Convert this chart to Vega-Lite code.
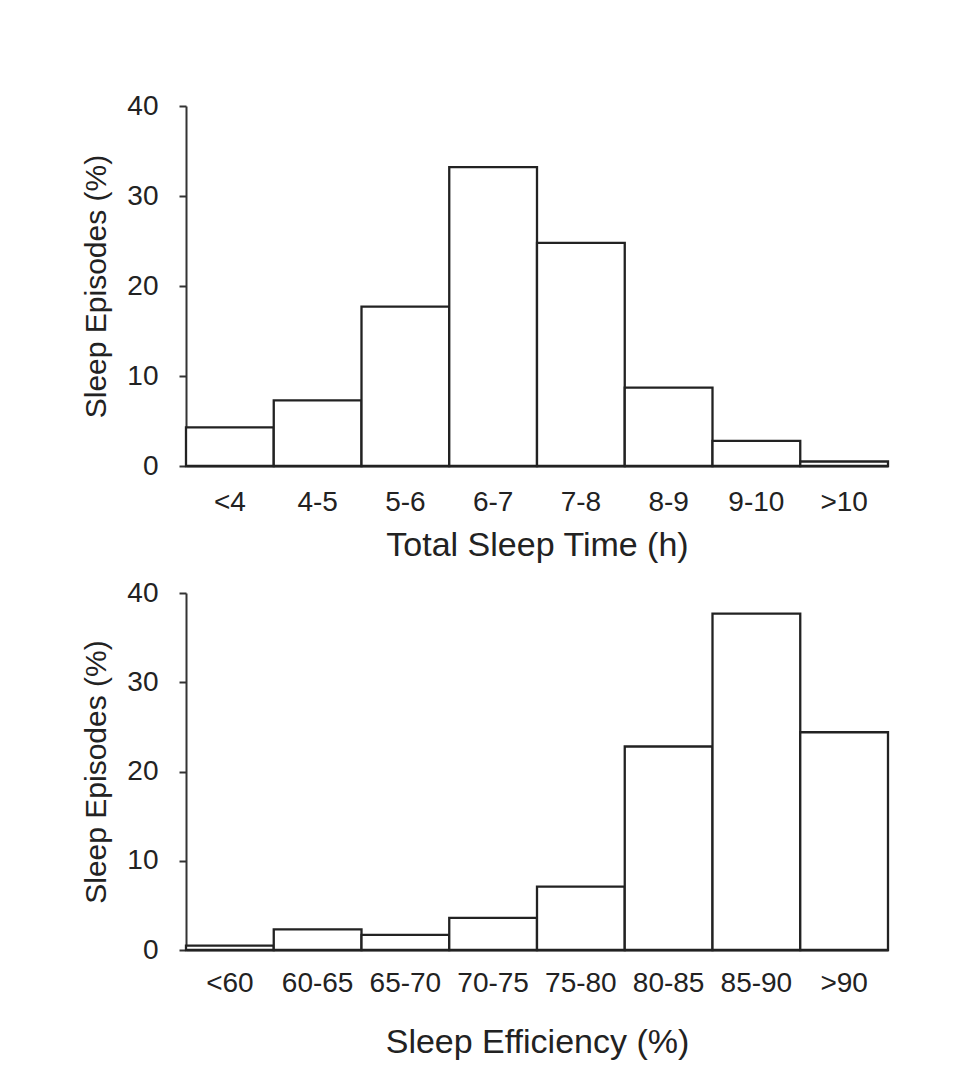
{
  "$schema": "https://vega.github.io/schema/vega-lite/v6.json",
  "padding": {"left": 81, "top": 92, "right": 20, "bottom": 5},
  "background": "white",
  "spacing": 17,
  "config": {
    "view": {"stroke": null},
    "font": "Liberation Sans",
    "axis": {
      "grid": false,
      "domainColor": "#333",
      "domainWidth": 2,
      "tickColor": "#333",
      "tickWidth": 2,
      "labelColor": "#222",
      "titleColor": "#222",
      "labelFont": "Liberation Sans",
      "titleFont": "Liberation Sans",
      "labelFontSize": 28,
      "titleFontSize": 34,
      "titleFontWeight": "normal"
    }
  },
  "vconcat": [
    {
      "width": 702,
      "height": 360,
      "data": {"values": [
        {"category": "<4", "percent": 4.3},
        {"category": "4-5", "percent": 7.3},
        {"category": "5-6", "percent": 17.7},
        {"category": "6-7", "percent": 33.2},
        {"category": "7-8", "percent": 24.8},
        {"category": "8-9", "percent": 8.7},
        {"category": "9-10", "percent": 2.8},
        {"category": ">10", "percent": 0.5}
      ]},
      "mark": {"type": "bar", "fill": "white", "stroke": "#222", "strokeWidth": 2.3},
      "encoding": {
        "x": {"field": "category", "type": "nominal", "sort": null,
          "scale": {"paddingInner": 0, "paddingOuter": 0},
          "axis": {"title": "Total Sleep Time (h)", "labelAngle": 0, "ticks": false, "labelPadding": 22, "titlePadding": 12}},
        "y": {"field": "percent", "type": "quantitative", "scale": {"domain": [0, 40]},
          "axis": {"title": "Sleep Episodes (%)", "titleFontSize": 30, "values": [0, 10, 20, 30, 40], "tickSize": 7, "labelPadding": 21, "titlePadding": 15}}
      }
    },
    {
      "width": 702,
      "height": 357,
      "data": {"values": [
        {"category": "<60", "percent": 0.5},
        {"category": "60-65", "percent": 2.3},
        {"category": "65-70", "percent": 1.7},
        {"category": "70-75", "percent": 3.6},
        {"category": "75-80", "percent": 7.1},
        {"category": "80-85", "percent": 22.8},
        {"category": "85-90", "percent": 37.7},
        {"category": ">90", "percent": 24.4}
      ]},
      "mark": {"type": "bar", "fill": "white", "stroke": "#222", "strokeWidth": 2.3},
      "encoding": {
        "x": {"field": "category", "type": "nominal", "sort": null,
          "scale": {"paddingInner": 0, "paddingOuter": 0},
          "axis": {"title": "Sleep Efficiency (%)", "labelAngle": 0, "ticks": false, "labelPadding": 19, "titlePadding": 28}},
        "y": {"field": "percent", "type": "quantitative", "scale": {"domain": [0, 40]},
          "axis": {"title": "Sleep Episodes (%)", "titleFontSize": 30, "values": [0, 10, 20, 30, 40], "tickSize": 7, "labelPadding": 21, "titlePadding": 15}}
      }
    }
  ]
}
